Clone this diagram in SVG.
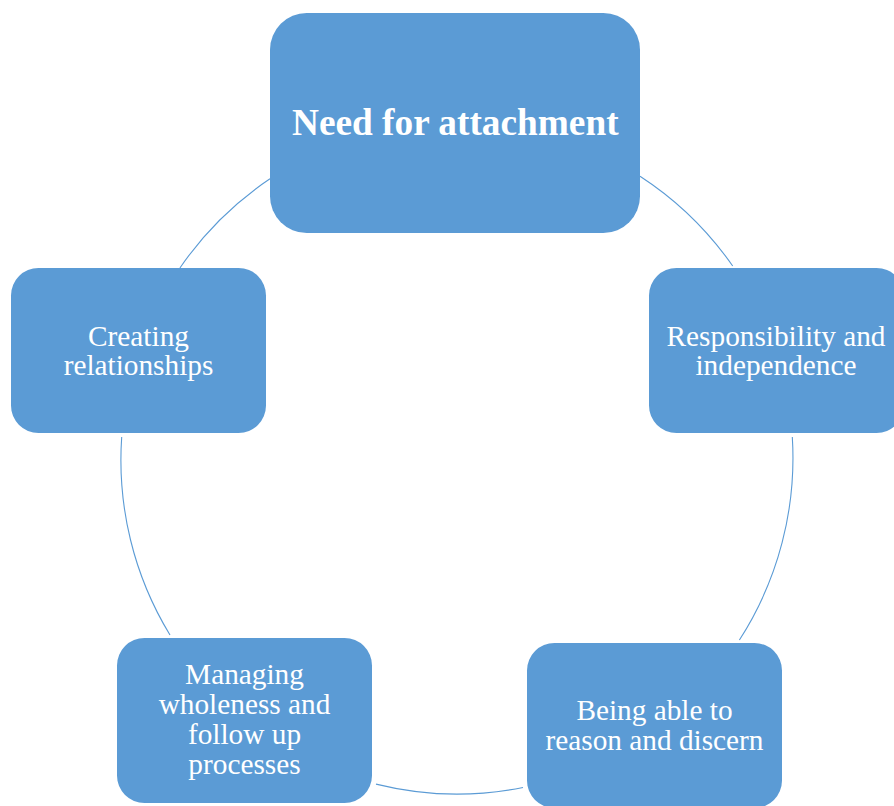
<svg xmlns="http://www.w3.org/2000/svg" width="894" height="806" viewBox="0 0 894 806">
<style>
.box{fill:#5B9BD5;}
.t{fill:#FFFFFF;font-family:"Liberation Serif","Times New Roman",serif;font-size:29.3px;text-anchor:middle;}
.tb{fill:#FFFFFF;font-family:"Liberation Serif","Times New Roman",serif;font-size:37.3px;font-weight:bold;text-anchor:middle;}
.arc{fill:none;stroke:#5B9BD5;stroke-width:1.1;}
</style>
<rect x="0" y="0" width="894" height="806" fill="#FFFFFF"/>
<g id="connectors">
<path class="arc" d="M640,176.2 A336,336 0 0 1 732.7,266"/>
<path class="arc" d="M792.3,437 A336,336 0 0 1 739.4,640"/>
<path class="arc" d="M523,787.5 A336,336 0 0 1 376,784.1"/>
<path class="arc" d="M170,635 A336,336 0 0 1 121.7,437"/>
<path class="arc" d="M179.9,268 A336,336 0 0 1 270,178.8"/>
</g>
<g id="node-attachment">
<rect class="box" x="270" y="13" width="370" height="220" rx="36.7" ry="36.7"/>
<text class="tb" x="455.3" y="135">Need for attachment</text>
</g>
<g id="node-responsibility">
<rect class="box" x="649" y="268" width="255" height="165" rx="27.5" ry="27.5"/>
<text class="t" x="776" y="345.5">Responsibility and</text>
<text class="t" x="776" y="375">independence</text>
</g>
<g id="node-reason">
<rect class="box" x="527" y="643" width="255" height="165" rx="27.5" ry="27.5"/>
<text class="t" x="654.5" y="720">Being able to</text>
<text class="t" x="654.5" y="749.5">reason and discern</text>
</g>
<g id="node-managing">
<rect class="box" x="117" y="638" width="255" height="165" rx="27.5" ry="27.5"/>
<text class="t" x="244.5" y="683.5">Managing</text>
<text class="t" x="244.5" y="713.5">wholeness and</text>
<text class="t" x="244.5" y="743.5">follow up</text>
<text class="t" x="244.5" y="773.5">processes</text>
</g>
<g id="node-relationships">
<rect class="box" x="11" y="268" width="255" height="165" rx="27.5" ry="27.5"/>
<text class="t" x="138.5" y="345.5">Creating</text>
<text class="t" x="138.5" y="375">relationships</text>
</g>
</svg>
